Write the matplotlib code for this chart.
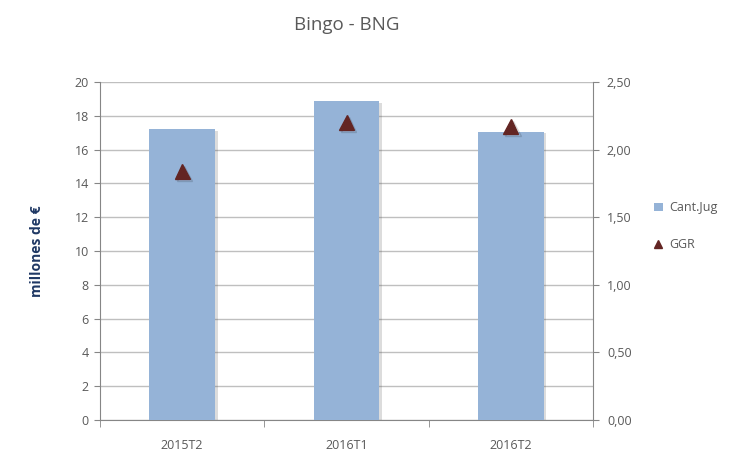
import matplotlib
matplotlib.use("Agg")
import matplotlib.pyplot as plt
import matplotlib.patheffects as pe
from matplotlib.patches import Patch
from matplotlib.lines import Line2D
from matplotlib.ticker import FuncFormatter, FixedLocator
import numpy as np

categories = ["2015T2", "2016T1", "2016T2"]
cant_jug = [17.2, 18.85, 17.05]
ggr = [1.84, 2.20, 2.17]
left_ticks = [0, 2, 4, 6, 8, 10, 12, 14, 16, 18, 20]
right_ticks = [0.0, 0.5, 1.0, 1.5, 2.0, 2.5]

plt.rcParams['font.family'] = ['Open Sans', 'DejaVu Sans']
txt = '#595959'
bar_c = '#95B3D7'
tri_c = '#632523'

fig = plt.figure(figsize=(7.36, 4.57), dpi=100)
ax = fig.add_axes([0.1359, 0.081, 0.6698, 0.7396])
x = np.arange(len(categories))
bars = ax.bar(x, cant_jug, width=0.4, color=bar_c, zorder=3)
for b in bars:
    b.set_path_effects([pe.SimplePatchShadow(offset=(2, -1), alpha=0.18, shadow_rgbFace='#404040'), pe.Normal()])
ax.set_xlim(-0.5, 2.5)
ax.set_ylim(0, 20)
ax.set_yticks(left_ticks)
ax.yaxis.grid(True, color='#BFBFBF', linewidth=1, zorder=0)
ax.set_axisbelow(True)
ax.set_xticks(x)
ax.set_xticklabels(categories)
ax.xaxis.set_minor_locator(FixedLocator([-0.5, 0.5, 1.5, 2.5]))
ax.tick_params(axis='x', which='major', length=0, pad=14, labelsize=9, labelcolor=txt)
ax.tick_params(axis='x', which='minor', length=5, color='#868686', direction='out')
ax.tick_params(axis='y', length=4, color='#868686', labelsize=9, labelcolor=txt, pad=4)
for s in ['top', 'right']:
    ax.spines[s].set_visible(False)
ax.spines['left'].set_color('#868686')
ax.spines['bottom'].set_color('#868686')
ax.set_ylabel('millones de €', color='#1F3864', fontweight='bold', fontsize=10, labelpad=22)

ax2 = ax.twinx()
ax2.set_ylim(0, 2.5)
ax2.set_yticks(right_ticks)
ax2.yaxis.set_major_formatter(FuncFormatter(lambda v, p: f"{v:.2f}".replace('.', ',')))
ax2.tick_params(axis='y', length=4, color='#868686', labelsize=9, labelcolor=txt, pad=6)
for s in ['top', 'left', 'bottom']:
    ax2.spines[s].set_visible(False)
ax2.spines['right'].set_color('#868686')
tri, = ax2.plot(x, ggr, linestyle='none', marker='^', markersize=11, color=tri_c, zorder=5)
tri.set_path_effects([pe.SimpleLineShadow(offset=(1.5, -1.5), alpha=0.15), pe.Normal()])

fig.text(0.4715, 0.945, 'Bingo - BNG', ha='center', va='center', fontsize=13.5, color=txt)

handles = [Patch(facecolor=bar_c, edgecolor='none', label='Cant.Jug'),
           Line2D([], [], linestyle='none', marker='^', markersize=6, color=tri_c, label='GGR')]
leg = fig.legend(handles=handles, loc='center left', bbox_to_anchor=(0.873, 0.505), frameon=False,
                 fontsize=9, labelspacing=1.9, handlelength=0.7, handleheight=0.7, handletextpad=0.5)
for t in leg.get_texts():
    t.set_color(txt)

fig.savefig('out.png', dpi=100)
